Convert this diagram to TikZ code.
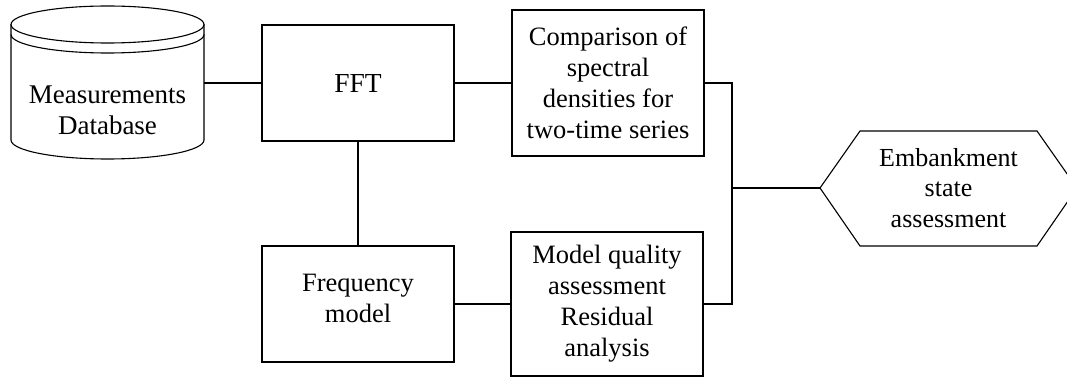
\documentclass[tikz,border=0pt]{standalone}
\usepackage{fontspec}
\setmainfont{Liberation Serif}
\begin{document}
\begin{tikzpicture}[x=1pt,y=1pt,
  boxnode/.style={draw, line width=1.6pt, minimum width=192pt, align=center, inner sep=0pt,
    font=\fontsize{26.5}{31}\selectfont},
  thin shape/.style={line width=1.1pt},
  conn/.style={line width=1.6pt}]
\useasboundingbox (0,0) rectangle (1067,378);
% cylinder
\draw[thin shape] (107.5,353.5) ellipse [x radius=96.5, y radius=18.5];
\draw[thin shape] (11,343.5) arc[start angle=180, end angle=360, x radius=96.5, y radius=18.5];
\draw[thin shape] (11,353.5) -- (11,238) arc[start angle=180, end angle=360, x radius=96.5, y radius=19] -- (204,353.5);
\node[minimum width=193pt, minimum height=116pt, inner sep=0pt] (db) at (107.5,295) {};
\node[align=center, font=\fontsize{27}{31}\selectfont] (dbtext) at (107.5,267.5) {Measurements\\Database};
% boxes
\node[boxnode, minimum height=116pt] (fft) at (358,295) {\fontsize{27.5}{31}\selectfont FFT};
\node[boxnode, minimum height=146pt] (comp) at (608,295) {Comparison of\\spectral\\densities for\\two-time series};
\node[boxnode, minimum height=116pt] (freq) at (358,74) {};
\node[align=center, font=\fontsize{26.5}{31}\selectfont] (freqtext) at (358,80) {Frequency\\model};
\node[boxnode, minimum height=144pt] (model) at (607,74) {Model quality\\assessment\\Residual\\analysis};
% hexagon
\draw[thin shape] (820,190) -- (860,247) -- (1037,247) -- (1077,190) -- (1037,132) -- (860,132) -- cycle;
\coordinate (hexL) at (820,190);
\node[align=center, font=\fontsize{26}{30.5}\selectfont] (hex) at (948.5,190) {Embankment\\state\\assessment};
\coordinate (j) at (732,190);
% connectors
\draw[conn] (db.east) -- (fft.west);
\draw[conn] (fft.east) -- (comp.west);
\draw[conn] (fft.south) -- (freq.north);
\draw[conn] (freq.east) -- (model.west);
\draw[conn] (comp.east) -| (j) |- (model.east);
\draw[conn] (j) -- (hexL);
\end{tikzpicture}
\end{document}
